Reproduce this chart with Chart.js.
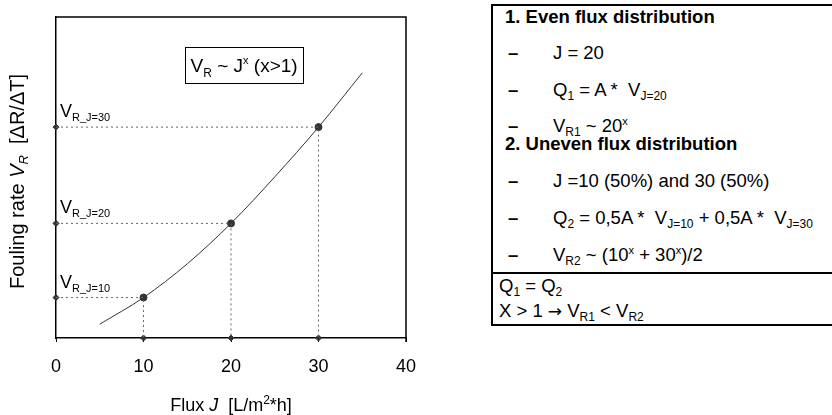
<!DOCTYPE html>
<html>
<head>
<meta charset="utf-8">
<script src="https://cdn.jsdelivr.net/npm/chart.js@4/dist/chart.umd.min.js"></script>
<style>
  html, body { margin: 0; padding: 0; background: #fff; }
  body { width: 832px; height: 415px; position: relative; overflow: hidden; font-family: "Liberation Sans", Arial, sans-serif; color: #000; }
  #wrap { position: absolute; left: 0; top: 0; width: 480px; height: 415px; }
  #box { position: absolute; left: 491px; top: 4px; width: 360px; height: 322px; border: 2px solid #000; box-sizing: border-box; }
  #box .sep { position: absolute; left: 0; right: 0; top: 266px; border-top: 2px solid #000; }
  #box .row { position: absolute; white-space: nowrap; font-size: 18.5px; line-height: 20px; }
  #box .h { font-weight: bold; left: 12px; }
  #box .d { left: 15px; font-weight: bold; }
  #box .t { left: 60px; }
  #box .p { left: 6px; }
  .arr { font-family: "DejaVu Sans", sans-serif; font-size: 17px; }
  sub, sup { font-size: 12px; line-height: 0; }
  sub { vertical-align: -4px; }
  sup { vertical-align: 7px; font-size: 11px; }
</style>
</head>
<body>
<div id="wrap"><canvas id="chart"></canvas></div>

<div id="box">
  <div class="row h" style="top:1px">1. Even flux distribution</div>
  <div class="row d" style="top:37px">&ndash;</div><div class="row t" style="top:37px">J = 20</div>
  <div class="row d" style="top:74px">&ndash;</div><div class="row t" style="top:74px">Q<sub>1</sub> = A *&nbsp; V<sub>J=20</sub></div>
  <div class="row d" style="top:110px">&ndash;</div><div class="row t" style="top:110px">V<sub>R1</sub> ~ 20<sup>x</sup></div>
  <div class="row h" style="top:128px">2. Uneven flux distribution</div>
  <div class="row d" style="top:165px">&ndash;</div><div class="row t" style="top:165px">J =10 (50%) and 30 (50%)</div>
  <div class="row d" style="top:202px">&ndash;</div><div class="row t" style="top:202px">Q<sub>2</sub> = 0,5A *&nbsp; V<sub>J=10</sub> + 0,5A *&nbsp; V<sub>J=30</sub></div>
  <div class="row d" style="top:239px">&ndash;</div><div class="row t" style="top:239px">V<sub>R2</sub> ~ (10<sup>x</sup> + 30<sup>x</sup>)/2</div>
  <div class="sep"></div>
  <div class="row p" style="top:270px">Q<sub>1</sub> = Q<sub>2</sub></div>
  <div class="row p" style="top:295px">X &gt; 1 <span class="arr">&rarr;</span> V<sub>R1</sub> &lt; V<sub>R2</sub></div>
</div>

<script>
// curve (flux J vs fouling rate, arbitrary units 0-100)
const fluxCurve = [5, 10, 15, 20, 25, 30, 35];
const rateCurve = [4.3, 12.6, 23.1, 35.7, 50.2, 65.7, 82.6];

// the three marked operating points
const markedFlux = [10, 20, 30];
const markedRate = [12.6, 35.7, 65.7];
const markedNames = ["J=10", "J=20", "J=30"];

const xTicks = [0, 10, 20, 30, 40];

const ink = "#333";
const FONT = '"Liberation Sans", Arial, sans-serif';

// draw a run of text pieces one after another
function richText(ctx, parts, x, y) {
  let cx = x;
  parts.forEach(p => {
    ctx.font = p.font;
    ctx.fillText(p.t, cx, y + (p.dy || 0));
    cx += ctx.measureText(p.t).width;
  });
  return cx - x;
}
function richWidth(ctx, parts) {
  let w = 0;
  parts.forEach(p => { ctx.font = p.font; w += ctx.measureText(p.t).width; });
  return w;
}

const curveData = fluxCurve.map((x, i) => ({ x: x, y: rateCurve[i] }));
const pointData = markedFlux.map((x, i) => ({ x: x, y: markedRate[i] }));
const axisMarks = [];
markedFlux.forEach((x, i) => {
  axisMarks.push({ x: 0, y: markedRate[i] });
  axisMarks.push({ x: x, y: 0 });
});

const guideSets = markedFlux.map((x, i) => ({
  type: "line",
  data: [{ x: 0, y: markedRate[i] }, { x: x, y: markedRate[i] }, { x: x, y: 0 }],
  borderColor: "#666",
  borderWidth: 1,
  borderDash: [2, 3],
  pointRadius: 0,
  tension: 0,
  clip: false
}));

const decor = {
  id: "decor",
  afterDraw(chart) {
    const ctx = chart.ctx;
    const a = chart.chartArea;
    const xs = chart.scales.x, ys = chart.scales.y;
    ctx.save();
    ctx.fillStyle = "#000";
    ctx.textBaseline = "alphabetic";

    // frame top and right
    ctx.strokeStyle = "#000";
    ctx.lineWidth = 1.5;
    ctx.beginPath();
    ctx.moveTo(a.left, a.top);
    ctx.lineTo(a.right, a.top);
    ctx.lineTo(a.right, a.bottom + 4);
    ctx.stroke();

    // labels of the marked rates on the y axis
    markedRate.forEach((v, i) => {
      const py = ys.getPixelForValue(v);
      richText(ctx, [
        { t: "V", font: "18px " + FONT },
        { t: "R_" + markedNames[i], font: "11px " + FONT, dy: 4 }
      ], a.left + 4, py - 10);
    });

    // relation box
    const eq = [
      { t: "V", font: "19px " + FONT },
      { t: "R", font: "12px " + FONT, dy: 5 },
      { t: " ~ J", font: "19px " + FONT },
      { t: "x", font: "11px " + FONT, dy: -8 },
      { t: " (x>1)", font: "19px " + FONT }
    ];
    const ew = richWidth(ctx, eq);
    const ecx = xs.getPixelForValue(21.5);
    const ecy = ys.getPixelForValue(85);
    ctx.lineWidth = 1;
    ctx.strokeStyle = "#000";
    ctx.strokeRect(Math.round(ecx - 59) + 0.5, Math.round(ecy - 18) + 0.5, 118, 36);
    richText(ctx, eq, ecx - ew / 2, ecy + 7);

    // x axis title
    const xt = [
      { t: "Flux ", font: "18px " + FONT },
      { t: "J", font: "italic 18px " + FONT },
      { t: "  [L/m", font: "18px " + FONT },
      { t: "2", font: "12px " + FONT, dy: -7 },
      { t: "*h]", font: "18px " + FONT }
    ];
    const xw = richWidth(ctx, xt);
    richText(ctx, xt, (a.left + a.right) / 2 - xw / 2, 411);

    // y axis title
    const yt = [
      { t: "Fouling rate ", font: "20px " + FONT },
      { t: "V", font: "italic 20px " + FONT },
      { t: "R", font: "italic 13px " + FONT, dy: 4 },
      { t: "  [\u0394R/\u0394T]", font: "20px " + FONT }
    ];
    const yw = richWidth(ctx, yt);
    ctx.translate(24, (a.top + a.bottom) / 2 + 4);
    ctx.rotate(-Math.PI / 2);
    richText(ctx, yt, -yw / 2, 0);
    ctx.restore();
  }
};

new Chart(document.getElementById("chart"), {
  type: "scatter",
  data: {
    datasets: [
      ...guideSets,
      {
        type: "line",
        data: curveData,
        borderColor: ink,
        borderWidth: 1,
        pointRadius: 0,
        cubicInterpolationMode: "monotone"
      },
      {
        data: pointData,
        pointRadius: 3.5,
        pointBackgroundColor: ink,
        pointBorderColor: ink
      },
      {
        data: axisMarks,
        pointStyle: "rectRot",
        pointRadius: 3,
        pointBackgroundColor: ink,
        pointBorderColor: ink,
        clip: false
      }
    ]
  },
  options: {
    responsive: true,
    maintainAspectRatio: false,
    animation: false,
    events: [],
    layout: { padding: { top: 17, left: 0, right: 74, bottom: 0 } },
    plugins: { legend: { display: false }, tooltip: { enabled: false } },
    scales: {
      x: {
        type: "linear",
        min: 0,
        max: 40,
        afterBuildTicks: s => { s.ticks = xTicks.map(v => ({ value: v })); },
        afterFit: s => { s.height = 77; },
        ticks: { color: "#000", font: { size: 18, family: FONT }, padding: 14 },
        grid: { drawOnChartArea: false, drawTicks: true, tickLength: 4, color: "#000", lineWidth: 1 },
        border: { color: "#000", width: 1.5 }
      },
      y: {
        type: "linear",
        min: 0,
        max: 100,
        afterFit: s => { s.width = 56; },
        ticks: { display: false },
        grid: { display: false },
        border: { color: "#000", width: 1.5 }
      }
    }
  },
  plugins: [decor]
});
</script>
</body>
</html>
